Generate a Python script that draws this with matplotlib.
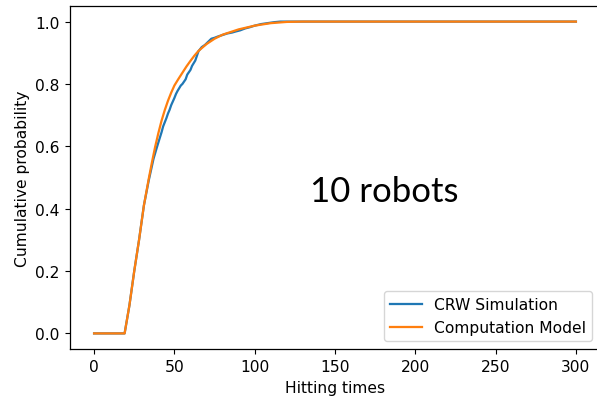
import matplotlib
matplotlib.use('Agg')
import matplotlib.pyplot as plt

# hitting times
sim_t = [0, 19, 22, 25, 28, 31, 34, 37, 39, 40, 42, 43, 45, 46, 47, 48, 50, 51, 52,
         54, 55, 57, 58, 60, 61, 63, 64, 65, 67, 69, 71, 73, 75, 77, 80, 83, 86, 88,
         91, 94, 97, 100, 104, 108, 112, 116, 300]
sim_p = [0.0, 0.0, 0.09, 0.2, 0.30, 0.41, 0.49, 0.56, 0.595, 0.612, 0.645, 0.664, 0.69,
         0.705, 0.717, 0.732, 0.755, 0.768, 0.778, 0.795, 0.80, 0.815, 0.83, 0.845, 0.858,
         0.875, 0.89, 0.905, 0.918, 0.925, 0.935, 0.945, 0.948, 0.952, 0.957, 0.962,
         0.965, 0.968, 0.972, 0.978, 0.982, 0.987, 0.992, 0.995, 0.998, 1.0, 1.0]

model_t = [0, 19, 22, 25, 28, 31, 34, 36, 38, 40, 42, 44, 46, 48, 50, 52.5, 55, 57.5,
           60, 62.5, 65, 70, 75, 80, 90, 100, 110, 120, 130, 300]
model_p = [0.0, 0.0, 0.09, 0.2, 0.30, 0.41, 0.495, 0.548, 0.598, 0.642, 0.682, 0.716,
           0.746, 0.772, 0.795, 0.816, 0.836, 0.856, 0.874, 0.891, 0.906, 0.928, 0.945,
           0.958, 0.975, 0.987, 0.995, 0.999, 1.0, 1.0]

plt.rcParams['font.size'] = 11.2
plt.rcParams['lines.linewidth'] = 1.62
plt.rcParams['axes.linewidth'] = 0.9
plt.rcParams['xtick.major.size'] = 3.8
plt.rcParams['ytick.major.size'] = 3.8

fig = plt.figure(figsize=(5.97, 4.02), dpi=100)
ax = fig.add_axes([70 / 597, 52 / 402, 530 / 597, 343 / 402])

ax.plot(sim_t, sim_p, color='tab:blue', label='CRW Simulation')
ax.plot(model_t, model_p, color='tab:orange', label='Computation Model')

ax.set_xlabel('Hitting times')
ax.set_ylabel('Cumulative probability')
ax.set_xticks([0, 50, 100, 150, 200, 250, 300])
ax.set_yticks([0.0, 0.2, 0.4, 0.6, 0.8, 1.0])
ax.legend(loc='lower right')

fig.text(384 / 597, 1 - 201.7 / 402, '10 robots', family='Lato', fontsize=25,
         ha='center', va='baseline')

fig.savefig('out.png', dpi=100)
